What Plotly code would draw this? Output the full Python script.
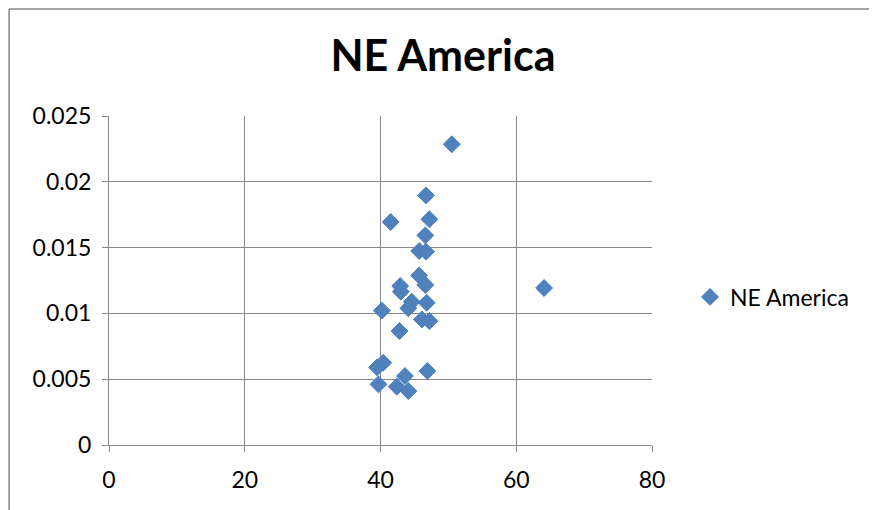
import plotly.graph_objects as go

# values
series_name = "NE America"
x_vals = [50.5, 64.1, 46.7, 41.5, 47.2, 46.6, 45.7, 46.7, 45.7, 46.6, 42.9, 43.0, 44.6,
          46.8, 44.1, 40.2, 46.1, 47.2, 42.8, 40.4, 39.5, 46.9, 39.7, 43.6, 42.4, 44.1]
y_vals = [0.02285, 0.01193, 0.01897, 0.01695, 0.01715, 0.01593, 0.01474, 0.01469,
          0.01288, 0.01216, 0.01208, 0.01165, 0.01089, 0.01081, 0.01039, 0.01021,
          0.00954, 0.00942, 0.00866, 0.00625, 0.00590, 0.00562, 0.00461, 0.00524,
          0.00443, 0.00410]
x_ticks = [0, 20, 40, 60, 80]
y_ticks = [0, 0.005, 0.01, 0.015, 0.02, 0.025]

font = "Lato, 'DejaVu Sans', sans-serif"
grid = "#868686"

fig = go.Figure()
fig.add_trace(
    go.Scatter(
        x=x_vals,
        y=y_vals,
        mode="markers",
        name=series_name,
        marker=dict(symbol="diamond", size=13, color="#4F81BD",
                    line=dict(color="#4A7EBB", width=1)),
    )
)

# page has an 8px body margin, so the margins are shifted by that much
fig.update_layout(
    width=877,
    height=510,
    margin=dict(l=101, r=233, t=108, b=73),
    paper_bgcolor="white",
    plot_bgcolor="white",
    font=dict(family=font, size=23, color="black"),
    title=dict(text="<b>NE America</b>", x=0.496, xanchor="center",
               y=0.906, yanchor="middle", font=dict(family=font, size=43)),
    showlegend=True,
    legend=dict(x=1.07, y=0.45, xanchor="left", yanchor="middle",
                font=dict(family=font, size=23), itemwidth=30),
    xaxis=dict(range=[0, 80], tickvals=x_ticks, showgrid=True, gridcolor=grid,
               gridwidth=1, showline=True, linecolor=grid, linewidth=1,
               ticks="outside", ticklen=6, tickcolor=grid, zeroline=False,
               ticklabelstandoff=8, tickfont=dict(size=23)),
    yaxis=dict(range=[0, 0.025], tickvals=y_ticks, showgrid=True, gridcolor=grid,
               gridwidth=1, showline=True, linecolor=grid, linewidth=1,
               ticks="outside", ticklen=6, tickcolor=grid, zeroline=False,
               ticklabelstandoff=6, tickfont=dict(size=23)),
    # chart-area border: only the top and left edges are visible in the crop
    shapes=[
        dict(type="line", xref="paper", yref="paper", x0=-0.184, x1=1.5,
             y0=1.325, y1=1.325, line=dict(color="#868686", width=1.5)),
        dict(type="line", xref="paper", yref="paper", x0=-0.184, x1=-0.184,
             y0=-0.3, y1=1.325, line=dict(color="#868686", width=1.5)),
    ],
)

fig.write_html("out.html")
